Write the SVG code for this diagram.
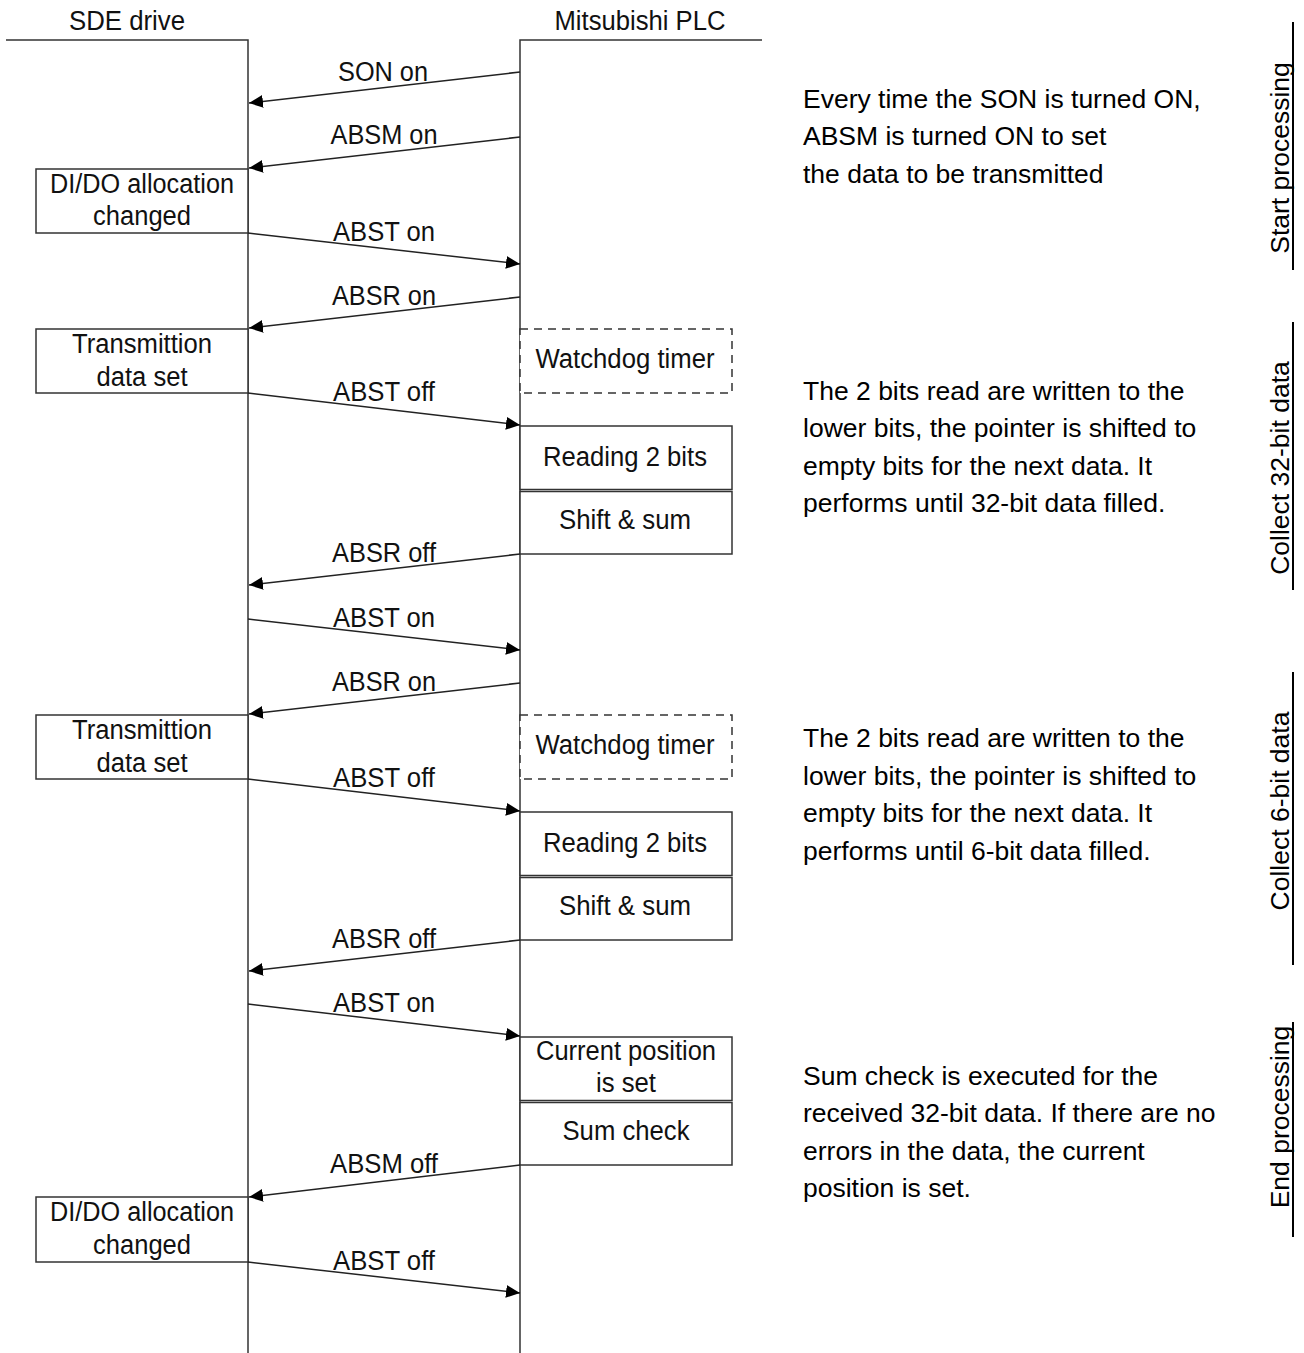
<svg xmlns="http://www.w3.org/2000/svg" width="1304" height="1353" viewBox="0 0 1304 1353">
<style>
.lbl{font-family:"Liberation Sans",Arial,sans-serif;font-size:27px;fill:#111;text-anchor:middle}
.note{font-family:"Liberation Sans",Arial,sans-serif;font-size:26.5px;fill:#000}
.side{font-family:"Liberation Sans",Arial,sans-serif;font-size:26.5px;fill:#000;text-anchor:middle}
.life{stroke:#333;stroke-width:1.5;fill:none}
.box{stroke:#333;stroke-width:1.5;fill:#fff}
.dash{stroke:#333;stroke-width:1.5;fill:#fff;stroke-dasharray:8 6}
.msg{stroke:#222;stroke-width:1.5;fill:none;marker-end:url(#ah)}
.bar{stroke:#000;stroke-width:2;fill:none}
</style>
<defs>
<marker id="ah" markerUnits="userSpaceOnUse" markerWidth="15" markerHeight="13" refX="14" refY="6.5" orient="auto">
<path d="M0,0 L14,6.5 L0,13 z" fill="#000"/>
</marker>
</defs>
<rect width="1304" height="1353" fill="#fff"/>

<g id="lifelines">
<path class="life" d="M6,40 H248 V1353"/>
<path class="life" d="M520,1353 V40 H762"/>
<text class="lbl" x="127" y="30" textLength="116" lengthAdjust="spacingAndGlyphs">SDE drive</text>
<text class="lbl" x="640" y="30" textLength="171" lengthAdjust="spacingAndGlyphs">Mitsubishi PLC</text>
</g>

<g id="node-didoA">
<rect class="box" x="36" y="169" width="212" height="64"/>
<text class="lbl" x="142" y="193" textLength="184" lengthAdjust="spacingAndGlyphs">DI/DO allocation</text>
<text class="lbl" x="142" y="225" textLength="98" lengthAdjust="spacingAndGlyphs">changed</text>
</g>
<g id="node-tdsA">
<rect class="box" x="36" y="329" width="212" height="64"/>
<text class="lbl" x="142" y="353" textLength="140" lengthAdjust="spacingAndGlyphs">Transmittion</text>
<text class="lbl" x="142" y="386" textLength="91" lengthAdjust="spacingAndGlyphs">data set</text>
</g>
<g id="node-wdA">
<rect class="dash" x="520" y="329" width="212" height="64"/>
<text class="lbl" x="625" y="368" textLength="179" lengthAdjust="spacingAndGlyphs">Watchdog timer</text>
</g>
<g id="node-readA">
<rect class="box" x="520" y="426" width="212" height="63.5"/>
<text class="lbl" x="625" y="466" textLength="164" lengthAdjust="spacingAndGlyphs">Reading 2 bits</text>
</g>
<g id="node-shiftA">
<rect class="box" x="520" y="491.5" width="212" height="62.5"/>
<text class="lbl" x="625" y="529" textLength="132" lengthAdjust="spacingAndGlyphs">Shift &amp; sum</text>
</g>
<g id="node-tdsB">
<rect class="box" x="36" y="715" width="212" height="64"/>
<text class="lbl" x="142" y="739" textLength="140" lengthAdjust="spacingAndGlyphs">Transmittion</text>
<text class="lbl" x="142" y="772" textLength="91" lengthAdjust="spacingAndGlyphs">data set</text>
</g>
<g id="node-wdB">
<rect class="dash" x="520" y="715" width="212" height="64"/>
<text class="lbl" x="625" y="754" textLength="179" lengthAdjust="spacingAndGlyphs">Watchdog timer</text>
</g>
<g id="node-readB">
<rect class="box" x="520" y="812" width="212" height="63.5"/>
<text class="lbl" x="625" y="852" textLength="164" lengthAdjust="spacingAndGlyphs">Reading 2 bits</text>
</g>
<g id="node-shiftB">
<rect class="box" x="520" y="877.5" width="212" height="62.5"/>
<text class="lbl" x="625" y="915" textLength="132" lengthAdjust="spacingAndGlyphs">Shift &amp; sum</text>
</g>
<g id="node-curpos">
<rect class="box" x="520" y="1037" width="212" height="63.5"/>
<text class="lbl" x="626" y="1060" textLength="180" lengthAdjust="spacingAndGlyphs">Current position</text>
<text class="lbl" x="626" y="1092" textLength="60" lengthAdjust="spacingAndGlyphs">is set</text>
</g>
<g id="node-sumcheck">
<rect class="box" x="520" y="1102.5" width="212" height="62.5"/>
<text class="lbl" x="626" y="1140" textLength="127" lengthAdjust="spacingAndGlyphs">Sum check</text>
</g>
<g id="node-didoB">
<rect class="box" x="36" y="1197" width="212" height="65"/>
<text class="lbl" x="142" y="1221" textLength="184" lengthAdjust="spacingAndGlyphs">DI/DO allocation</text>
<text class="lbl" x="142" y="1254" textLength="98" lengthAdjust="spacingAndGlyphs">changed</text>
</g>

<g id="connectors">
<line class="msg" x1="520" y1="72" x2="249" y2="103"/>
<text class="lbl" x="383" y="81" textLength="90" lengthAdjust="spacingAndGlyphs">SON on</text>
<line class="msg" x1="520" y1="137" x2="249" y2="168"/>
<text class="lbl" x="384" y="144" textLength="107" lengthAdjust="spacingAndGlyphs">ABSM on</text>
<line class="msg" x1="248" y1="233" x2="520" y2="264"/>
<text class="lbl" x="384" y="241" textLength="102" lengthAdjust="spacingAndGlyphs">ABST on</text>
<line class="msg" x1="520" y1="297" x2="249" y2="328"/>
<text class="lbl" x="384" y="305" textLength="104" lengthAdjust="spacingAndGlyphs">ABSR on</text>
<line class="msg" x1="248" y1="393" x2="520" y2="425"/>
<text class="lbl" x="384" y="401" textLength="102" lengthAdjust="spacingAndGlyphs">ABST off</text>
<line class="msg" x1="520" y1="554" x2="249" y2="585"/>
<text class="lbl" x="384" y="562" textLength="104" lengthAdjust="spacingAndGlyphs">ABSR off</text>
<line class="msg" x1="248" y1="619" x2="520" y2="650"/>
<text class="lbl" x="384" y="627" textLength="102" lengthAdjust="spacingAndGlyphs">ABST on</text>
<line class="msg" x1="520" y1="683" x2="249" y2="714"/>
<text class="lbl" x="384" y="691" textLength="104" lengthAdjust="spacingAndGlyphs">ABSR on</text>
<line class="msg" x1="248" y1="779" x2="520" y2="811"/>
<text class="lbl" x="384" y="787" textLength="102" lengthAdjust="spacingAndGlyphs">ABST off</text>
<line class="msg" x1="520" y1="940" x2="249" y2="971"/>
<text class="lbl" x="384" y="948" textLength="104" lengthAdjust="spacingAndGlyphs">ABSR off</text>
<line class="msg" x1="248" y1="1004" x2="520" y2="1036"/>
<text class="lbl" x="384" y="1012" textLength="102" lengthAdjust="spacingAndGlyphs">ABST on</text>
<line class="msg" x1="520" y1="1165" x2="249" y2="1197"/>
<text class="lbl" x="384" y="1173" textLength="108" lengthAdjust="spacingAndGlyphs">ABSM off</text>
<line class="msg" x1="248" y1="1262" x2="520" y2="1293"/>
<text class="lbl" x="384" y="1270" textLength="102" lengthAdjust="spacingAndGlyphs">ABST off</text>
</g>

<g id="notes">
<text class="note" x="803" y="108">Every time the SON is turned ON,</text>
<text class="note" x="803" y="145">ABSM is turned ON to set</text>
<text class="note" x="803" y="183">the data to be transmitted</text>
<text class="note" x="803" y="400">The 2 bits read are written to the</text>
<text class="note" x="803" y="437">lower bits, the pointer is shifted to</text>
<text class="note" x="803" y="475">empty bits for the next data. It</text>
<text class="note" x="803" y="512">performs until 32-bit data filled.</text>
<text class="note" x="803" y="747">The 2 bits read are written to the</text>
<text class="note" x="803" y="785">lower bits, the pointer is shifted to</text>
<text class="note" x="803" y="822">empty bits for the next data. It</text>
<text class="note" x="803" y="860">performs until 6-bit data filled.</text>
<text class="note" x="803" y="1085">Sum check is executed for the</text>
<text class="note" x="803" y="1122">received 32-bit data. If there are no</text>
<text class="note" x="803" y="1160">errors in the data, the current</text>
<text class="note" x="803" y="1197">position is set.</text>
</g>

<g id="phases">
<line class="bar" x1="1293" y1="22" x2="1293" y2="270"/>
<text class="side" transform="translate(1289,158) rotate(-90)">Start processing</text>
<line class="bar" x1="1293" y1="322" x2="1293" y2="590"/>
<text class="side" transform="translate(1289,468) rotate(-90)">Collect 32-bit data</text>
<line class="bar" x1="1293" y1="672" x2="1293" y2="965"/>
<text class="side" transform="translate(1289,811) rotate(-90)">Collect 6-bit data</text>
<line class="bar" x1="1293" y1="1022" x2="1293" y2="1237"/>
<text class="side" transform="translate(1289,1117) rotate(-90)">End processing</text>
</g>
</svg>
